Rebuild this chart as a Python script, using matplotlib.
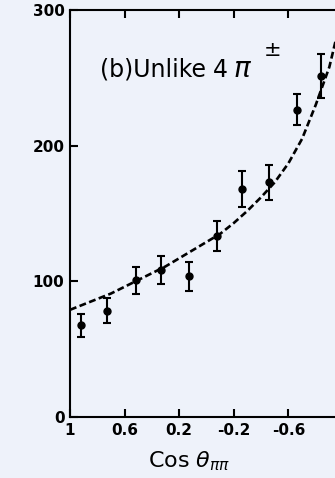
import matplotlib
matplotlib.use("Agg")
import matplotlib.pyplot as plt
import numpy as np

# measured angular distribution, unlike-sign pion pairs
cos_pp = [0.92, 0.73, 0.52, 0.33, 0.13, -0.08, -0.26, -0.46, -0.66, -0.84]
counts = [67.6, 78.4, 100.7, 108.6, 103.6, 133.3, 168, 173, 226.5, 251.5]
errors = [8.3, 9.0, 9.7, 10.4, 10.4, 11.1, 13.0, 13.0, 11.4, 16.0]

# fitted curve (dashed)
fit_x = [1.0, 0.9, 0.8, 0.7, 0.6, 0.5, 0.4, 0.3, 0.2, 0.1, 0.0,
         -0.1, -0.2, -0.3, -0.4, -0.5, -0.6, -0.7, -0.8, -0.9, -1.0]
fit_y = [79, 83, 87, 91, 96, 101, 106, 111, 117, 123, 129,
         135, 143, 152, 162, 173, 187, 205, 230, 258, 300]

xticks = [1, 0.6, 0.2, -0.2, -0.6, -1]
xticklabels = ["1", "0.6", "0.2", "-0.2", "-0.6", "-1"]
yticks = [0, 100, 200, 300]

W, H = 335, 478
bg = "#eef2fa"
fig = plt.figure(figsize=(W / 100, H / 100), dpi=100, facecolor=bg)
ax = fig.add_axes([70 / W, 1 - 417 / H, 273 / W, 407 / H], facecolor=bg)

ax.plot(fit_x, fit_y, color="black", lw=1.9, ls=(0, (2.6, 1.3)))
ax.errorbar(cos_pp, counts, yerr=errors, fmt="o", color="black",
            ms=5, elinewidth=1.5, capsize=2.8, capthick=1.5)

ax.set_xlim(1, -1)
ax.set_ylim(0, 300)
ax.set_xticks(xticks)
ax.set_xticklabels(xticklabels)
ax.set_yticks(yticks)
ax.set_yticklabels(["0", "100", "200", "300"])

for s in ax.spines.values():
    s.set_linewidth(1.5)
ax.tick_params(direction="in", length=6, width=1.5, top=True, right=True,
               labelsize=11, pad=4)
for lab in ax.get_xticklabels() + ax.get_yticklabels():
    lab.set_fontweight("bold")

# panel label, set piece by piece so the charge sign sits above the pion
fig.text(100 / W, 1 - 77 / H, "(b)Unlike", fontsize=17, ha="left", va="baseline")
fig.text(213 / W, 1 - 77 / H, "4", fontsize=17, ha="left", va="baseline")
fig.text(233 / W, 1 - 77 / H, r"$\pi$", fontsize=20, ha="left", va="baseline")
fig.text(263 / W, 1 - 56 / H, r"$\pm$", fontsize=15, ha="left", va="baseline")

fig.text(148 / W, 1 - 467 / H, r"Cos $\theta_{\pi\pi}$", fontsize=16,
         ha="left", va="baseline")

fig.savefig("out.png", dpi=100, facecolor=bg)
